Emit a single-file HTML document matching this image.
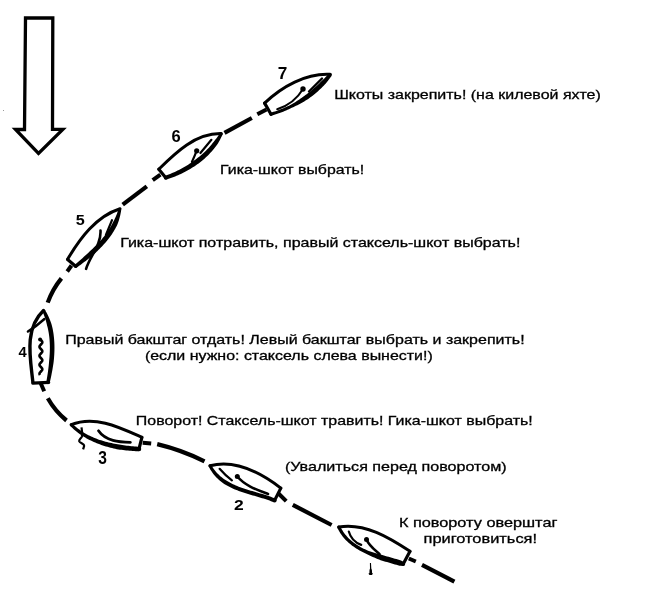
<!DOCTYPE html>
<html><head><meta charset="utf-8">
<style>
html,body{margin:0;padding:0;background:#fff;width:650px;height:593px;overflow:hidden}
svg{display:block;will-change:transform}
.t{font-family:"Liberation Sans",sans-serif;font-size:13px;font-weight:normal;fill:#000;stroke:#000;stroke-width:0.3px}
text{font-family:"Liberation Sans",sans-serif;fill:#000}
</style></head><body>
<svg width="650" height="593" viewBox="0 0 650 593">
<g fill="none" stroke="#000">
<path d="M25.5,18 L24.5,129.5 L15.5,129.5 L38.5,153.3 L62.8,129.3 L52.5,129.3 L52.8,18 Z" stroke-width="3.3" stroke-linejoin="miter"/>
<path d="M264.6,103.1 C281.7,86.6 305.9,73.0 330.1,74.3" stroke-width="3" stroke-linecap="round" />
<path d="M271.41,115.64 L272.91,115.21 L274.40,114.76 L275.89,114.29 L277.37,113.80 L278.84,113.29 L280.31,112.76 L281.76,112.21 L283.21,111.64 L284.66,111.06 L286.09,110.46 L287.52,109.83 L288.94,109.19 L290.35,108.53 L291.75,107.86 L293.17,107.21 L294.58,106.55 L295.99,105.87 L297.39,105.18 L298.77,104.46 L300.15,103.73 L301.52,102.97 L302.88,102.20 L304.24,101.41 L305.58,100.61 L306.91,99.78 L308.22,98.93 L309.49,98.01 L310.75,97.08 L312.00,96.13 L313.23,95.16 L314.45,94.18 L315.65,93.18 L316.85,92.16 L318.02,91.13 L319.19,90.08 L320.34,89.02 L321.48,87.94 L322.60,86.84 L323.70,85.73 L324.79,84.60 L325.80,83.39 L326.79,82.17 L327.77,80.94 L328.72,79.69 L329.66,78.43 L330.58,77.16 L331.48,75.88 L328.72,73.72 L327.71,74.85 L326.68,75.97 L325.64,77.06 L324.58,78.14 L323.51,79.21 L322.43,80.26 L321.33,81.29 L320.28,82.37 L319.22,83.43 L318.15,84.48 L317.06,85.52 L315.95,86.54 L314.84,87.54 L313.71,88.53 L312.57,89.50 L311.41,90.46 L310.24,91.40 L309.06,92.33 L307.86,93.24 L306.66,94.14 L305.44,95.02 L304.24,95.93 L303.04,96.83 L301.82,97.72 L300.59,98.59 L299.35,99.45 L298.10,100.29 L296.83,101.12 L295.55,101.92 L294.27,102.72 L292.97,103.49 L291.65,104.25 L290.33,104.99 L288.97,105.66 L287.60,106.32 L286.23,106.95 L284.84,107.57 L283.45,108.17 L282.05,108.76 L280.64,109.32 L279.23,109.87 L277.80,110.40 L276.37,110.91 L274.94,111.40 L273.49,111.87 L272.04,112.32 L270.59,112.76 Z" fill="#000" stroke="none"/>
<circle cx="271.00" cy="114.20" r="1.50" fill="#000" stroke="none"/>
<circle cx="330.10" cy="74.80" r="1.75" fill="#000" stroke="none"/>
<path d="M264.6,103.1 L271.0,114.2" stroke-width="3.2" stroke-linecap="round" />
<path d="M257.3,114.2 L266.5,109.4" stroke-width="4" stroke-linecap="butt" />
<path d="M303.0,89.0 C297.3,98.6 287.8,105.8 277.2,109.3" stroke-width="2" stroke-linecap="round" />
<circle cx="303" cy="89" r="2.7" fill="#000" stroke="none"/>
<path d="M309.0,91.5 L322.0,78.5" stroke-width="2.4" stroke-linecap="round" />
<path d="M158.8,169.2 C175.7,152.5 195.6,133.1 221.2,133.6" stroke-width="3" stroke-linecap="round" />
<path d="M166.44,179.59 L167.90,179.11 L169.35,178.61 L170.80,178.09 L172.25,177.55 L173.70,176.99 L175.14,176.41 L176.58,175.81 L178.02,175.19 L179.45,174.54 L180.87,173.88 L182.29,173.20 L183.70,172.50 L185.11,171.78 L186.50,171.04 L187.89,170.27 L189.27,169.49 L190.64,168.69 L192.00,167.87 L193.34,167.02 L194.68,166.16 L196.00,165.28 L197.31,164.37 L198.61,163.45 L199.88,162.49 L201.12,161.50 L202.35,160.49 L203.56,159.46 L204.75,158.41 L205.92,157.34 L207.07,156.25 L208.21,155.14 L209.32,154.01 L210.41,152.86 L211.48,151.69 L212.53,150.51 L213.56,149.30 L214.56,148.08 L215.54,146.83 L216.49,145.57 L217.41,144.28 L218.23,142.93 L219.03,141.56 L219.79,140.18 L220.52,138.77 L221.23,137.36 L221.90,135.93 L222.54,134.48 L219.86,133.12 L219.07,134.40 L218.25,135.67 L217.40,136.91 L216.53,138.13 L215.63,139.33 L214.71,140.50 L213.77,141.66 L212.87,142.85 L211.95,144.02 L211.00,145.17 L210.04,146.31 L209.05,147.43 L208.04,148.53 L207.00,149.61 L205.95,150.68 L204.87,151.72 L203.78,152.75 L202.67,153.76 L201.54,154.76 L200.39,155.73 L199.22,156.69 L198.04,157.62 L196.84,158.54 L195.63,159.46 L194.42,160.37 L193.20,161.27 L191.96,162.14 L190.71,163.00 L189.44,163.84 L188.17,164.66 L186.88,165.47 L185.58,166.25 L184.27,167.02 L182.94,167.77 L181.61,168.50 L180.27,169.21 L178.93,169.91 L177.57,170.58 L176.21,171.24 L174.84,171.88 L173.47,172.49 L172.09,173.09 L170.71,173.67 L169.33,174.24 L167.94,174.78 L166.55,175.30 L165.16,175.81 Z" fill="#000" stroke="none"/>
<circle cx="165.80" cy="177.70" r="2.00" fill="#000" stroke="none"/>
<circle cx="221.20" cy="133.80" r="1.50" fill="#000" stroke="none"/>
<path d="M158.8,169.2 L165.8,177.7" stroke-width="3.2" stroke-linecap="round" />
<path d="M152.7,180.2 L160.4,174.6" stroke-width="4" stroke-linecap="butt" />
<path d="M196.6,150.8 Q194.4,156.5 191.9,162.0" stroke-width="2.2" stroke-linecap="round" />
<circle cx="196.7" cy="150.8" r="2.6" fill="#000" stroke="none"/>
<path d="M200.4,153.0 L211.4,139.8" stroke-width="2.2" stroke-linecap="round" />
<path d="M67.6,259.2 C80.0,238.5 96.0,216.4 120.0,208.8" stroke-width="3" stroke-linecap="round" />
<path d="M76.68,267.67 L77.92,266.76 L79.17,265.84 L80.41,264.92 L81.66,263.99 L82.90,263.05 L84.15,262.11 L85.40,261.15 L86.64,260.19 L87.88,259.22 L89.12,258.24 L90.35,257.25 L91.57,256.25 L92.79,255.24 L94.01,254.22 L95.18,253.15 L96.34,252.07 L97.48,250.97 L98.62,249.86 L99.74,248.74 L100.85,247.61 L101.95,246.46 L103.03,245.30 L104.09,244.12 L105.14,242.93 L106.17,241.73 L107.18,240.50 L108.17,239.27 L109.14,238.01 L110.08,236.74 L111.00,235.45 L111.90,234.14 L112.78,232.82 L113.62,231.48 L114.44,230.11 L115.23,228.73 L115.99,227.33 L116.73,225.91 L117.39,224.45 L117.96,222.94 L118.49,221.42 L118.99,219.88 L119.45,218.33 L119.87,216.76 L120.26,215.17 L120.60,213.57 L120.91,211.95 L121.17,210.31 L118.23,209.69 L117.78,211.20 L117.29,212.68 L116.77,214.14 L116.21,215.57 L115.62,216.97 L115.00,218.35 L114.34,219.71 L113.66,221.04 L112.94,222.35 L112.25,223.67 L111.58,224.99 L110.87,226.29 L110.13,227.58 L109.36,228.85 L108.57,230.11 L107.75,231.35 L106.91,232.58 L106.04,233.79 L105.15,234.99 L104.24,236.18 L103.30,237.35 L102.34,238.51 L101.36,239.66 L100.36,240.79 L99.35,241.92 L98.31,243.03 L97.26,244.13 L96.19,245.22 L95.11,246.30 L94.01,247.37 L92.90,248.43 L91.78,249.48 L90.65,250.53 L89.54,251.60 L88.42,252.67 L87.29,253.72 L86.15,254.77 L85.00,255.81 L83.85,256.85 L82.69,257.88 L81.53,258.90 L80.37,259.92 L79.20,260.93 L78.03,261.94 L76.86,262.94 L75.69,263.93 L74.52,264.93 Z" fill="#000" stroke="none"/>
<circle cx="75.60" cy="266.30" r="1.75" fill="#000" stroke="none"/>
<circle cx="119.70" cy="210.00" r="1.50" fill="#000" stroke="none"/>
<path d="M67.6,259.6 L75.6,266.3" stroke-width="3.2" stroke-linecap="round" />
<path d="M67.2,271.5 L71.5,265.5" stroke-width="4" stroke-linecap="butt" />
<path d="M100.5,230.5 C101.3,245.0 90.2,255.8 86.1,268.8" stroke-width="2.6" stroke-linecap="round" />
<path d="M112.0,220.2 L105.9,235.0" stroke-width="2.2" stroke-linecap="round" />
<path d="M32.9,382.4 C30.5,358.8 23.8,329.1 43.5,310.6" stroke-width="3.4" stroke-linecap="round" />
<path d="M49.71,382.75 L50.06,381.24 L50.40,379.73 L50.74,378.20 L51.06,376.67 L51.38,375.13 L51.69,373.59 L51.99,372.04 L52.28,370.49 L52.55,368.93 L52.82,367.37 L53.07,365.80 L53.31,364.23 L53.53,362.65 L53.74,361.07 L53.90,359.49 L54.03,357.90 L54.15,356.31 L54.25,354.72 L54.33,353.13 L54.40,351.53 L54.44,349.94 L54.46,348.35 L54.45,346.75 L54.43,345.16 L54.38,343.57 L54.31,341.98 L54.21,340.39 L54.08,338.81 L53.93,337.22 L53.75,335.64 L53.55,334.07 L53.31,332.49 L53.04,330.92 L52.75,329.36 L52.42,327.80 L52.05,326.24 L51.66,324.69 L51.20,323.16 L50.66,321.65 L50.08,320.15 L49.46,318.66 L48.82,317.18 L48.13,315.72 L47.41,314.27 L46.65,312.83 L45.85,311.40 L45.02,309.99 L42.38,311.41 L43.03,312.83 L43.64,314.26 L44.20,315.70 L44.74,317.14 L45.23,318.59 L45.69,320.04 L46.11,321.49 L46.49,322.95 L46.85,324.42 L47.22,325.88 L47.59,327.33 L47.93,328.79 L48.23,330.26 L48.52,331.74 L48.77,333.22 L48.99,334.71 L49.19,336.20 L49.36,337.70 L49.50,339.21 L49.62,340.72 L49.71,342.23 L49.78,343.75 L49.83,345.27 L49.85,346.79 L49.86,348.32 L49.84,349.85 L49.80,351.38 L49.74,352.92 L49.66,354.46 L49.56,355.99 L49.45,357.53 L49.31,359.07 L49.17,360.61 L49.04,362.15 L48.90,363.69 L48.75,365.23 L48.58,366.77 L48.40,368.31 L48.20,369.85 L48.00,371.39 L47.78,372.92 L47.55,374.45 L47.31,375.98 L47.07,377.50 L46.81,379.02 L46.55,380.54 L46.29,382.05 Z" fill="#000" stroke="none"/>
<circle cx="48.00" cy="382.40" r="1.75" fill="#000" stroke="none"/>
<circle cx="43.70" cy="310.70" r="1.50" fill="#000" stroke="none"/>
<path d="M32.9,383.1 L48.7,382.4" stroke-width="3.2" stroke-linecap="round" />
<path d="M40.6,383.0 L44.2,391.2" stroke-width="4" stroke-linecap="butt" />
<path d="M44.4,319.0 Q36.7,326.0 27.9,331.6" stroke-width="2.4" stroke-linecap="round" />
<path d="M40.90,340.00 L41.38,340.50 L41.80,341.00 L42.11,341.50 L42.28,342.00 L42.28,342.50 L42.11,343.00 L41.80,343.50 L41.38,344.00 L40.90,344.50 L40.42,345.00 L40.00,345.50 L39.69,346.00 L39.52,346.50 L39.52,347.00 L39.69,347.50 L40.00,348.00 L40.42,348.50 L40.90,349.00 L41.38,349.50 L41.80,350.00 L42.11,350.50 L42.28,351.00 L42.28,351.50 L42.11,352.00 L41.80,352.50 L41.38,353.00 L40.90,353.50 L40.42,354.00 L40.00,354.50 L39.69,355.00 L39.52,355.50 L39.52,356.00 L39.69,356.50 L40.00,357.00 L40.42,357.50 L40.90,358.00 L41.38,358.50 L41.80,359.00 L42.11,359.50 L42.28,360.00 L42.28,360.50 L42.11,361.00 L41.80,361.50 L41.38,362.00 L40.90,362.50 L40.42,363.00 L40.00,363.50 L39.69,364.00 L39.52,364.50 L39.52,365.00 L39.69,365.50 L40.00,366.00 L40.42,366.50 L40.90,367.00 L41.38,367.50 L41.80,368.00 L42.11,368.50 L42.28,369.00 L42.28,369.50 L42.11,370.00 L41.80,370.50 L41.38,371.00 L40.90,371.50 L40.42,372.00 L40.00,372.50 L39.69,373.00 L39.52,373.50 L39.52,374.00 L39.69,374.50 L40.00,375.00" stroke-width="2.6" stroke-linejoin="round" fill="none"/>
<circle cx="40.1" cy="339.6" r="2" fill="#000" stroke="none"/>
<path d="M71.2,424.7 C94.9,414.9 120.3,427.6 141.9,437.3" stroke-width="3" stroke-linecap="round" />
<path d="M70.14,425.76 L71.28,426.92 L72.45,428.04 L73.64,429.14 L74.85,430.20 L76.09,431.23 L77.34,432.23 L78.62,433.20 L79.91,434.13 L81.23,435.04 L82.56,435.92 L83.91,436.77 L85.28,437.60 L86.66,438.39 L88.06,439.16 L89.48,439.89 L90.91,440.61 L92.35,441.29 L93.81,441.95 L95.28,442.59 L96.75,443.20 L98.24,443.80 L99.74,444.36 L101.25,444.91 L102.77,445.43 L104.30,445.93 L105.83,446.40 L107.38,446.86 L108.93,447.29 L110.49,447.70 L112.05,448.09 L113.62,448.46 L115.19,448.81 L116.77,449.14 L118.35,449.40 L119.94,449.64 L121.53,449.86 L123.12,450.07 L124.71,450.25 L126.30,450.43 L127.89,450.58 L129.47,450.72 L131.06,450.84 L132.63,450.95 L134.21,451.05 L135.78,451.13 L137.35,451.19 L138.91,451.25 L139.09,446.75 L137.57,446.66 L136.05,446.56 L134.52,446.45 L132.99,446.32 L131.45,446.18 L129.92,446.03 L128.38,445.86 L126.84,445.67 L125.31,445.47 L123.77,445.26 L122.24,445.02 L120.71,444.77 L119.18,444.50 L117.66,444.22 L116.13,443.96 L114.60,443.70 L113.08,443.41 L111.56,443.10 L110.05,442.77 L108.54,442.42 L107.04,442.06 L105.55,441.67 L104.06,441.26 L102.59,440.82 L101.12,440.37 L99.66,439.89 L98.21,439.39 L96.77,438.86 L95.35,438.30 L93.93,437.72 L92.53,437.11 L91.15,436.48 L89.77,435.82 L88.41,435.14 L87.07,434.43 L85.74,433.69 L84.42,432.92 L83.13,432.13 L81.84,431.31 L80.58,430.45 L79.33,429.57 L78.11,428.66 L76.90,427.72 L75.71,426.75 L74.54,425.75 L73.39,424.71 L72.26,423.64 Z" fill="#000" stroke="none"/>
<circle cx="71.20" cy="424.70" r="1.50" fill="#000" stroke="none"/>
<circle cx="139.00" cy="449.00" r="2.25" fill="#000" stroke="none"/>
<path d="M141.9,437.3 L139.0,449.0" stroke-width="3.2" stroke-linecap="round" />
<path d="M142.7,442.7 L151.2,443.5" stroke-width="4" stroke-linecap="butt" />
<path d="M98.5,430.8 C105.4,441.1 119.5,442.0 130.4,442.3" stroke-width="2.8" stroke-linecap="round" />
<path d="M81.5,427.4 C82,430 82.5,434 81.9,436.6 C81,438.5 78.8,439.5 79.2,441.2 C79.7,443 84.5,443.8 84.2,445.8 L83.1,449.3" stroke-width="2.2" fill="none"/>
<path d="M210.0,465.8 C234.7,459.2 261.5,473.3 280.8,488.1" stroke-width="3" stroke-linecap="round" />
<path d="M208.67,466.50 L209.52,468.10 L210.41,469.63 L211.34,471.11 L212.32,472.53 L213.34,473.90 L214.40,475.21 L215.50,476.46 L216.64,477.67 L217.82,478.82 L219.03,479.93 L220.27,480.98 L221.55,482.00 L222.85,482.97 L224.18,483.89 L225.55,484.75 L226.95,485.57 L228.37,486.35 L229.81,487.09 L231.26,487.81 L232.73,488.49 L234.22,489.14 L235.72,489.76 L237.24,490.36 L238.76,490.94 L240.30,491.50 L241.84,492.03 L243.39,492.55 L244.95,493.06 L246.51,493.55 L248.07,494.03 L249.64,494.50 L251.20,494.96 L252.77,495.42 L254.33,495.87 L255.89,496.32 L257.45,496.77 L259.00,497.23 L260.54,497.68 L262.07,498.15 L263.59,498.62 L265.10,499.09 L266.60,499.58 L268.08,500.08 L269.54,500.60 L270.99,501.13 L272.43,501.68 L273.84,502.25 L275.36,498.55 L273.89,497.96 L272.40,497.39 L270.90,496.83 L269.38,496.30 L267.86,495.79 L266.32,495.29 L264.78,494.80 L263.23,494.32 L261.68,493.85 L260.12,493.39 L258.57,492.93 L257.01,492.48 L255.45,492.03 L253.89,491.58 L252.33,491.12 L250.78,490.66 L249.23,490.20 L247.70,489.73 L246.16,489.25 L244.64,488.75 L243.13,488.25 L241.63,487.73 L240.15,487.19 L238.68,486.63 L237.23,486.06 L235.79,485.46 L234.38,484.84 L232.98,484.19 L231.60,483.52 L230.25,482.82 L228.92,482.09 L227.62,481.33 L226.34,480.53 L225.07,479.73 L223.83,478.89 L222.61,478.01 L221.42,477.09 L220.26,476.13 L219.13,475.11 L218.04,474.05 L216.97,472.94 L215.94,471.78 L214.95,470.56 L213.98,469.29 L213.06,467.95 L212.17,466.56 L211.33,465.10 Z" fill="#000" stroke="none"/>
<circle cx="210.00" cy="465.80" r="1.50" fill="#000" stroke="none"/>
<circle cx="274.60" cy="500.40" r="2.00" fill="#000" stroke="none"/>
<path d="M280.8,488.1 L274.6,500.4" stroke-width="3.2" stroke-linecap="round" />
<path d="M278.5,493.5 L286.2,501.2" stroke-width="4" stroke-linecap="butt" />
<path d="M219.6,468.8 Q225.1,475.2 231.9,480.4" stroke-width="2.2" stroke-linecap="round" />
<path d="M237.3,476.5 C245.1,485.8 257.0,489.8 268.0,494.0" stroke-width="2.6" stroke-linecap="round" />
<circle cx="237.3" cy="476.5" r="2.5" fill="#000" stroke="none"/>
<path d="M338.8,527.0 C364.6,522.5 389.4,537.7 410.0,551.3" stroke-width="3" stroke-linecap="round" />
<path d="M337.34,527.66 L338.10,529.25 L338.90,530.79 L339.76,532.27 L340.67,533.71 L341.63,535.10 L342.63,536.44 L343.68,537.74 L344.77,539.00 L345.90,540.20 L347.08,541.37 L348.28,542.50 L349.53,543.58 L350.81,544.62 L352.12,545.63 L353.46,546.60 L354.82,547.54 L356.22,548.44 L357.64,549.31 L359.09,550.14 L360.55,550.95 L362.04,551.73 L363.54,552.48 L365.06,553.20 L366.58,553.94 L368.10,554.71 L369.62,555.46 L371.17,556.18 L372.72,556.89 L374.28,557.57 L375.85,558.24 L377.43,558.90 L379.01,559.53 L380.59,560.15 L382.21,560.66 L383.82,561.16 L385.43,561.64 L387.03,562.12 L388.63,562.59 L390.21,563.05 L391.79,563.51 L393.35,563.96 L394.90,564.41 L396.44,564.85 L397.95,565.30 L399.48,565.63 L401.06,565.77 L402.61,565.91 L403.79,562.09 L402.40,561.33 L400.99,560.57 L399.50,560.02 L397.97,559.57 L396.43,559.12 L394.88,558.68 L393.31,558.22 L391.75,557.77 L390.17,557.31 L388.59,556.85 L387.01,556.38 L385.43,555.90 L383.85,555.41 L382.27,554.91 L380.67,554.49 L379.06,554.07 L377.46,553.63 L375.87,553.18 L374.28,552.71 L372.70,552.22 L371.13,551.72 L369.58,551.19 L368.03,550.64 L366.52,550.03 L365.05,549.34 L363.60,548.63 L362.17,547.90 L360.77,547.14 L359.38,546.35 L358.03,545.54 L356.70,544.69 L355.40,543.82 L354.13,542.92 L352.89,541.98 L351.68,541.01 L350.51,540.00 L349.37,538.96 L348.27,537.89 L347.21,536.77 L346.19,535.62 L345.21,534.42 L344.27,533.19 L343.38,531.91 L342.53,530.59 L341.72,529.22 L340.97,527.80 L340.26,526.34 Z" fill="#000" stroke="none"/>
<circle cx="338.80" cy="527.00" r="1.60" fill="#000" stroke="none"/>
<circle cx="403.20" cy="564.00" r="2.00" fill="#000" stroke="none"/>
<path d="M410.0,551.3 L403.2,564.0" stroke-width="3.2" stroke-linecap="round" />
<path d="M408.8,558.5 L415.8,561.5" stroke-width="4" stroke-linecap="butt" />
<path d="M348.8,531.5 Q351.4,541.2 361.2,544.9" stroke-width="2.2" stroke-linecap="round" />
<path d="M366.5,539.5 C369.0,545.7 374.8,549.9 379.6,554.2" stroke-width="2.6" stroke-linecap="round" />
<circle cx="366.5" cy="539.5" r="2.5" fill="#000" stroke="none"/>
<path d="M369.9,563 L371,563 L371.3,568.5 L371.9,570 L372.1,573 L373,573.8 L371.8,575 L369.6,575 L368.4,573.8 L369.4,573 L369.5,570 L370,568.5 Z" fill="#000" stroke="none"/>
<path d="M224.5,132.8 L251.8,118.0" stroke-width="4.2" stroke-linecap="butt" />
<path d="M122.7,204.6 L146.8,186.4" stroke-width="4.2" stroke-linecap="butt" />
<path d="M61.4,278.3 Q52.5,289.2 47.7,302.6" stroke-width="4.2" stroke-linecap="butt" />
<path d="M47.8,398.3 Q55.0,411.1 66.5,420.5" stroke-width="4.2" stroke-linecap="butt" />
<path d="M157.2,444.1 Q181.8,450.0 204.5,461.3" stroke-width="4.2" stroke-linecap="butt" />
<path d="M292.8,504.9 L331.6,525.0" stroke-width="4.2" stroke-linecap="butt" />
<path d="M422.0,564.9 L454.4,581.6" stroke-width="4.2" stroke-linecap="butt" />
</g>
<text transform="translate(277.63,78.5) scale(1.015,1)" font-size="16.96" font-weight="bold">7</text>
<text transform="translate(171.62,142.04) scale(1.001,1)" font-size="16.48" font-weight="bold">6</text>
<text transform="translate(75.71,224.85) scale(1.05,1)" font-size="15.43" font-weight="bold">5</text>
<text transform="translate(18.38,357.3) scale(0.952,1)" font-size="15.51" font-weight="bold">4</text>
<text transform="translate(98.21,463.62) scale(0.85,1)" font-size="18.31" font-weight="bold">3</text>
<text transform="translate(233.99,509.6) scale(1.134,1)" font-size="15.43" font-weight="bold">2</text>
<rect x="3" y="110" width="1" height="1" fill="#999"/>
<text x="334.2" y="99" class="t" textLength="266.54" lengthAdjust="spacingAndGlyphs">Шкоты закрепить! (на килевой яхте)</text>
<text x="220.1" y="174.2" class="t" textLength="144.09" lengthAdjust="spacingAndGlyphs">Гика-шкот выбрать!</text>
<text x="120.15" y="246.5" class="t" textLength="400.21" lengthAdjust="spacingAndGlyphs">Гика-шкот потравить, правый стаксель-шкот выбрать!</text>
<text x="65.15" y="344" class="t" textLength="459.44" lengthAdjust="spacingAndGlyphs">Правый бакштаг отдать! Левый бакштаг выбрать и закрепить!</text>
<text x="144.9" y="359.6" class="t" textLength="287.85" lengthAdjust="spacingAndGlyphs">(если нужно: стаксель слева вынести!)</text>
<text x="135.8" y="424.7" class="t" textLength="396.96" lengthAdjust="spacingAndGlyphs">Поворот! Стаксель-шкот травить! Гика-шкот выбрать!</text>
<text x="284.9" y="470.6" class="t" textLength="221.75" lengthAdjust="spacingAndGlyphs">(Увалиться перед поворотом)</text>
<text x="398.9" y="526.6" class="t" textLength="158.5" lengthAdjust="spacingAndGlyphs">К повороту оверштаг</text>
<text x="423.5" y="542.6" class="t" textLength="113.53" lengthAdjust="spacingAndGlyphs">приготовиться!</text>
</svg>
</body></html>
